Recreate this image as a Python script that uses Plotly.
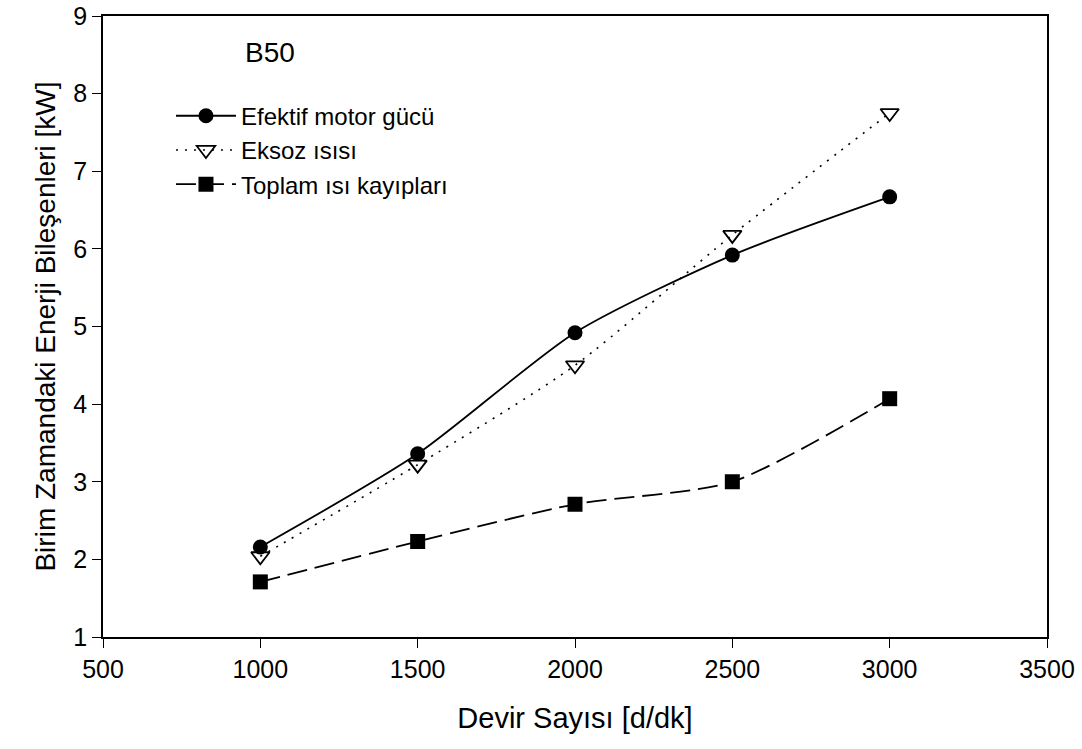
import plotly.graph_objects as go

rpm = [1000, 1500, 2000, 2500, 3000]
efektif = [2.16, 3.36, 4.92, 5.92, 6.67]
eksoz = [2.04, 3.22, 4.50, 6.18, 7.75]
toplam = [1.71, 2.23, 2.71, 3.00, 4.07]

FONT = "Liberation Sans, Arial, sans-serif"

fig = go.Figure()
fig.add_trace(go.Scatter(x=rpm, y=efektif, name="Efektif motor gücü", mode="lines+markers",
                         line=dict(color="black", width=1.8, shape="spline", smoothing=0.7),
                         marker=dict(symbol="circle", size=15, color="black")))
fig.add_trace(go.Scatter(x=rpm, y=eksoz, name="Eksoz ısısı", mode="lines+markers",
                         line=dict(color="black", width=1.6, dash="2px,7px", shape="spline", smoothing=0.7),
                         marker=dict(symbol="triangle-down-open", size=16, color="black", line=dict(width=1.8))))
fig.add_trace(go.Scatter(x=rpm, y=toplam, name="Toplam ısı kayıpları", mode="lines+markers",
                         line=dict(color="black", width=1.8, dash="20px,8px", shape="spline", smoothing=0.7),
                         marker=dict(symbol="square", size=15, color="black")))

fig.add_annotation(x=0.148, y=0.942, xref="paper", yref="paper", text="B50", showarrow=False,
                   xanchor="left", yanchor="middle", font=dict(size=28, family=FONT, color="black"))

TICKFONT = dict(family=FONT, size=25, color="black")

fig.update_layout(
    template="simple_white",
    width=1082, height=749,
    margin=dict(l=103, r=35, t=16, b=112),
    paper_bgcolor="white", plot_bgcolor="white",
    font=dict(family=FONT, color="black", size=22),
    showlegend=True,
    legend=dict(x=0.072, y=0.875, xanchor="left", yanchor="top", bgcolor="rgba(0,0,0,0)",
                font=dict(size=24, family=FONT), itemwidth=60, tracegroupgap=0),
)
fig.update_xaxes(range=[500, 3500], tickmode="array", tickvals=[500, 1000, 1500, 2000, 2500, 3000, 3500],
                 showgrid=False, zeroline=False, showline=True, linecolor="black", linewidth=1.5,
                 mirror=True, ticks="outside", ticklen=9, tickwidth=1.2, tickcolor="black",
                 tickfont=TICKFONT, automargin=False, ticklabeloverflow="allow",
                 title=dict(text="Devir Sayısı [d/dk]", font=dict(size=29, family=FONT), standoff=26))
fig.update_yaxes(range=[1, 9], tickmode="array", tickvals=[1, 2, 3, 4, 5, 6, 7, 8, 9],
                 showgrid=False, zeroline=False, showline=True, linecolor="black", linewidth=1.5,
                 mirror=True, ticks="outside", ticklen=9, tickwidth=1.2, tickcolor="black",
                 tickfont=TICKFONT, automargin=False, ticklabeloverflow="allow",
                 title=dict(text="Birim Zamandaki Enerji Bileşenleri [kW]", font=dict(size=28, family=FONT), standoff=10))

fig.write_html("out.html", config={"displayModeBar": False},
               post_script="document.body.style.margin='0';")
